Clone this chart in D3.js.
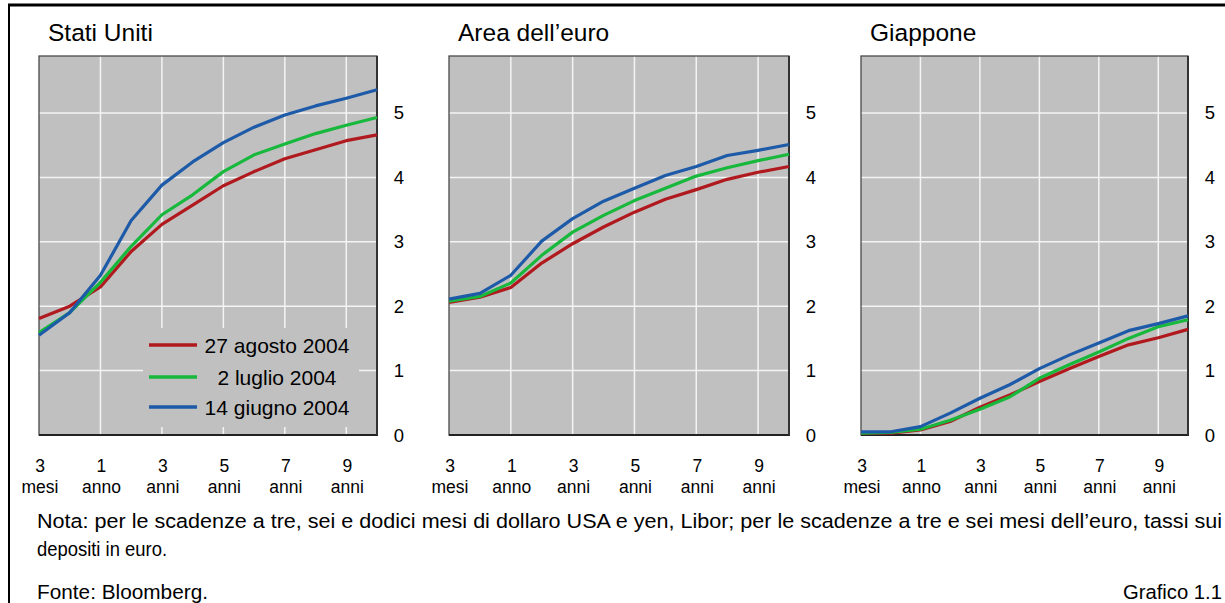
<!DOCTYPE html>
<html>
<head>
<meta charset="utf-8">
<script src="https://cdn.jsdelivr.net/npm/d3@7"></script>
<style>
  body { margin: 0; background: #fff; }
  svg { display: block; font-family: "Liberation Sans", Arial, sans-serif; }
</style>
</head>
<body>
<svg id="chart" width="1225" height="603"></svg>
<script>
// maturities (equally spaced on the x axis)
var maturities = ["3m", "6m", "1a", "2a", "3a", "4a", "5a", "6a", "7a", "8a", "9a", "10a"];
var tickCats = ["3m", "1a", "3a", "5a", "7a", "9a"];
var tickTop = ["3", "1", "3", "5", "7", "9"];
var tickBottom = ["mesi", "anno", "anni", "anni", "anni", "anni"];
var yTicks = [0, 1, 2, 3, 4, 5];

var seriesNames = ["27 agosto 2004", "2 luglio 2004", "14 giugno 2004"];
var seriesColors = ["#b01a1e", "#17b83c", "#1d5aa8"];
var panelTitles = ["Stati Uniti", "Area dell\u2019euro", "Giappone"];

// Stati Uniti
var usAug = [1.81, 2.00, 2.30, 2.85, 3.27, 3.57, 3.87, 4.09, 4.29, 4.43, 4.57, 4.66];
var usJul = [1.59, 1.90, 2.37, 2.93, 3.42, 3.73, 4.09, 4.35, 4.52, 4.68, 4.81, 4.93];
var usJun = [1.55, 1.90, 2.48, 3.33, 3.88, 4.24, 4.54, 4.78, 4.97, 5.11, 5.23, 5.36];
// Area dell'euro
var euAug = [2.06, 2.14, 2.29, 2.67, 2.97, 3.23, 3.46, 3.66, 3.81, 3.97, 4.08, 4.17];
var euJul = [2.08, 2.15, 2.36, 2.79, 3.15, 3.41, 3.64, 3.83, 4.02, 4.15, 4.26, 4.36];
var euJun = [2.11, 2.20, 2.48, 3.01, 3.36, 3.63, 3.83, 4.03, 4.17, 4.34, 4.42, 4.51];
// Giappone
var jpAug = [0.03, 0.03, 0.08, 0.21, 0.43, 0.62, 0.83, 1.03, 1.22, 1.40, 1.51, 1.64];
var jpJul = [0.03, 0.04, 0.09, 0.23, 0.40, 0.59, 0.88, 1.09, 1.29, 1.50, 1.68, 1.79];
var jpJun = [0.05, 0.05, 0.13, 0.34, 0.57, 0.78, 1.03, 1.24, 1.43, 1.62, 1.73, 1.85];

var panelData = [[usAug, usJul, usJun], [euAug, euJul, euJun], [jpAug, jpJul, jpJun]];

var noteLine1 = "Nota: per le scadenze a tre, sei e dodici mesi di dollaro USA e yen, Libor; per le scadenze a tre e sei mesi dell\u2019euro, tassi sui";
var noteLine2 = "depositi in euro.";
var source = "Fonte: Bloomberg.";
var chartId = "Grafico 1.1";

var svg = d3.select("#chart");

// frame
svg.append("line").attr("x1", 8).attr("x2", 1225).attr("y1", 5).attr("y2", 5)
   .attr("stroke", "#000").attr("stroke-width", 3);
svg.append("line").attr("x1", 9).attr("x2", 9).attr("y1", 4).attr("y2", 603)
   .attr("stroke", "#000").attr("stroke-width", 2);

var lefts = [39, 449, 861];
var rights = [377, 789, 1188];
var plotTop = 56, plotBottom = 435;

var y = d3.scaleLinear().domain([0, 5.885]).range([plotBottom, plotTop]);

panelData.forEach(function(series, p) {
  var g = svg.append("g");
  var x = d3.scalePoint().domain(maturities).range([lefts[p], rights[p]]);

  g.append("text").attr("x", lefts[p] + 9).attr("y", 41)
   .attr("font-size", 24.5).attr("fill", "#000").text(panelTitles[p]);

  g.append("rect").attr("x", lefts[p]).attr("y", plotTop)
   .attr("width", rights[p] - lefts[p]).attr("height", plotBottom - plotTop)
   .attr("fill", "#c0c0c0");

  // gridlines
  g.selectAll(".vg").data(tickCats.slice(1)).enter().append("line")
   .attr("x1", function(d) { return x(d); }).attr("x2", function(d) { return x(d); })
   .attr("y1", plotTop).attr("y2", plotBottom)
   .attr("stroke", "#f4f4f4").attr("stroke-width", 1.5);
  g.selectAll(".hg").data(yTicks.slice(1)).enter().append("line")
   .attr("x1", lefts[p]).attr("x2", rights[p])
   .attr("y1", function(d) { return y(d); }).attr("y2", function(d) { return y(d); })
   .attr("stroke", "#f4f4f4").attr("stroke-width", 1.5);

  // legend box in first panel hides the grid
  if (p === 0) {
    g.append("rect").attr("x", 143).attr("y", 328).attr("width", 216).attr("height", 99)
     .attr("fill", "#c0c0c0");
  }

  // frame of plot
  g.append("rect").attr("x", lefts[p]).attr("y", plotTop)
   .attr("width", rights[p] - lefts[p]).attr("height", plotBottom - plotTop)
   .attr("fill", "none").attr("stroke", "#4a4a4a").attr("stroke-width", 1.3);
  g.append("line").attr("x1", lefts[p]).attr("x2", rights[p] + 1)
   .attr("y1", plotBottom).attr("y2", plotBottom).attr("stroke", "#222").attr("stroke-width", 2.2);
  g.append("line").attr("x1", rights[p]).attr("x2", rights[p])
   .attr("y1", plotTop).attr("y2", plotBottom).attr("stroke", "#333").attr("stroke-width", 2);

  var line = d3.line()
    .x(function(d, i) { return x(maturities[i]); })
    .y(function(d) { return y(d); });

  series.forEach(function(s, k) {
    g.append("path").datum(s).attr("d", line)
     .attr("fill", "none").attr("stroke", seriesColors[k])
     .attr("stroke-width", 3.2).attr("stroke-linejoin", "round");
  });

  // y tick labels on the right
  g.selectAll(".yl").data(yTicks).enter().append("text")
   .attr("x", rights[p] + 22).attr("y", function(d) { return y(d) + 6.5; })
   .attr("text-anchor", "middle").attr("font-size", 18.5).attr("fill", "#000")
   .text(function(d) { return d; });

  // x tick labels (two lines)
  tickCats.forEach(function(c, i) {
    var t = g.append("text").attr("text-anchor", "middle").attr("font-size", 17.5).attr("fill", "#000");
    t.append("tspan").attr("x", x(c) + 1).attr("y", 472).text(tickTop[i]);
    t.append("tspan").attr("x", x(c) + 1).attr("y", 493).text(tickBottom[i]);
  });
});

// legend
var legY = [345, 377, 407];
seriesNames.forEach(function(n, k) {
  svg.append("line").attr("x1", 149).attr("x2", 197).attr("y1", legY[k]).attr("y2", legY[k])
     .attr("stroke", seriesColors[k]).attr("stroke-width", 3.5);
  svg.append("text").attr("x", 277).attr("y", legY[k] + 7.5).attr("text-anchor", "middle")
     .attr("font-size", 21).attr("fill", "#000").text(n);
});

// notes (condensed face in the original)
function note(txt, x, yy, len, anchor) {
  svg.append("text").attr("x", x).attr("y", yy).attr("font-size", 20.5)
     .attr("text-anchor", anchor || "start")
     .attr("textLength", len).attr("lengthAdjust", "spacingAndGlyphs").text(txt);
}
note(noteLine1, 37, 528, 1185);
note(noteLine2, 37, 556, 130);
note(source, 37, 599, 171);
note(chartId, 1222, 599, 99, "end");
</script>
</body>
</html>
